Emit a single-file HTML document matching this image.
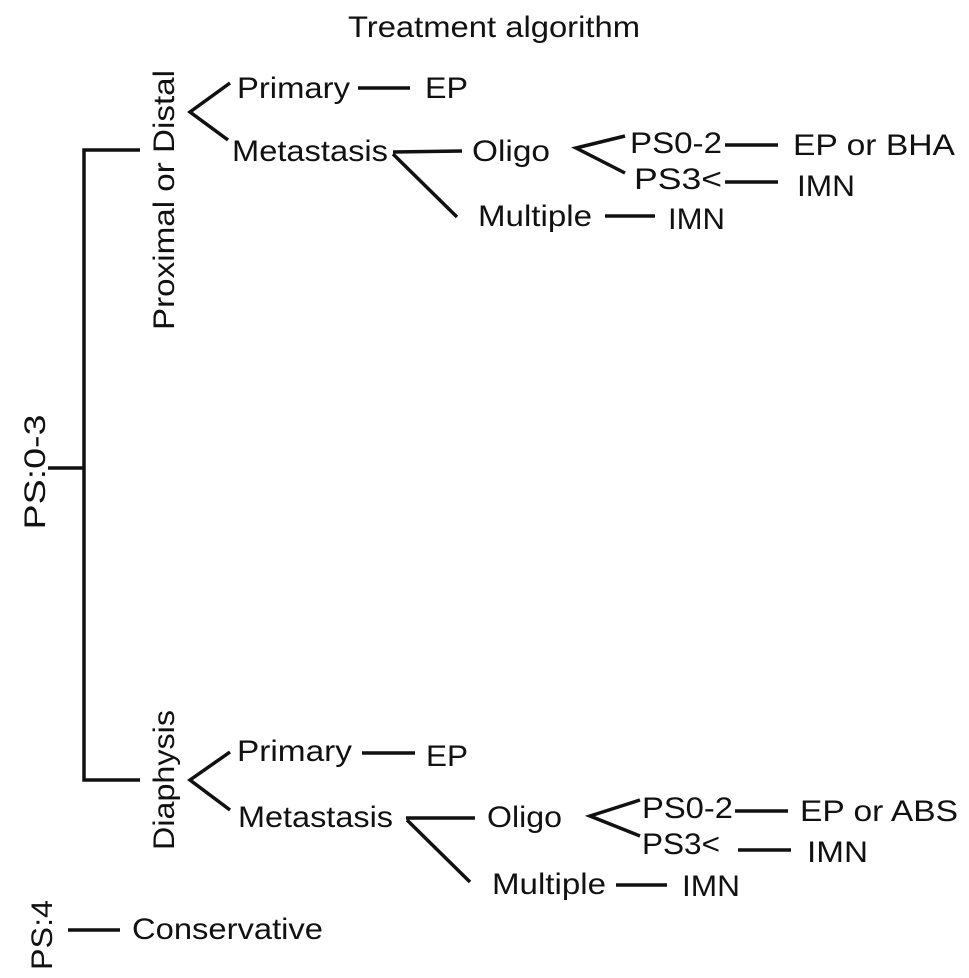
<!DOCTYPE html>
<html><head><style>html,body{margin:0;padding:0;background:#fff}svg{display:block}</style></head><body>
<svg width="969" height="978" viewBox="0 0 969 978" xmlns="http://www.w3.org/2000/svg" font-family="Liberation Sans, Arial, sans-serif" font-size="30" fill="#111">
<g stroke="#111" stroke-width="3.5" fill="none" stroke-linecap="butt">
<polyline points="140,150 84,150 84,780 140,780"/>
<line x1="48" y1="468" x2="84" y2="468"/>
<polyline points="230,83 190,112 228,140"/>
<line x1="358" y1="88" x2="410" y2="88"/>
<line x1="393" y1="152" x2="462" y2="151"/>
<line x1="393" y1="154" x2="457" y2="217"/>
<polyline points="625,136 576,148 625,173"/>
<line x1="725" y1="145" x2="778" y2="145"/>
<line x1="725" y1="182" x2="778" y2="182"/>
<line x1="605" y1="216" x2="655" y2="216"/>
<polyline points="230,752 190,780 230,810"/>
<line x1="362" y1="753" x2="415" y2="753"/>
<line x1="406" y1="818" x2="475" y2="818"/>
<line x1="407" y1="820" x2="470" y2="882"/>
<polyline points="640,800 590,816 640,836"/>
<line x1="735" y1="811" x2="788" y2="811"/>
<line x1="738" y1="850" x2="791" y2="850"/>
<line x1="616" y1="885" x2="667" y2="885"/>
<line x1="68" y1="930" x2="120" y2="930"/>
</g>
<g lengthAdjust="spacingAndGlyphs">
<text x="348" y="37" textLength="292" lengthAdjust="spacingAndGlyphs">Treatment algorithm</text>
<text transform="translate(174,200) rotate(-90)" text-anchor="middle" textLength="260" lengthAdjust="spacingAndGlyphs">Proximal or Distal</text>
<text transform="translate(174,780) rotate(-90)" text-anchor="middle" textLength="140" lengthAdjust="spacingAndGlyphs">Diaphysis</text>
<text transform="translate(45,472) rotate(-90)" text-anchor="middle" textLength="115" lengthAdjust="spacingAndGlyphs">PS:0-3</text>
<text transform="translate(52,935) rotate(-90)" text-anchor="middle" textLength="70" lengthAdjust="spacingAndGlyphs">PS:4</text>
<text x="237" y="98" textLength="113" lengthAdjust="spacingAndGlyphs">Primary</text>
<text x="425" y="98" textLength="43" lengthAdjust="spacingAndGlyphs">EP</text>
<text x="232" y="161" textLength="156" lengthAdjust="spacingAndGlyphs">Metastasis</text>
<text x="472" y="161" textLength="78" lengthAdjust="spacingAndGlyphs">Oligo</text>
<text x="630" y="153" textLength="92" lengthAdjust="spacingAndGlyphs">PS0-2</text>
<text x="793" y="155" textLength="162" lengthAdjust="spacingAndGlyphs">EP or BHA</text>
<text x="634" y="189" textLength="88" lengthAdjust="spacingAndGlyphs">PS3&lt;</text>
<text x="797" y="196" textLength="58" lengthAdjust="spacingAndGlyphs">IMN</text>
<text x="478" y="226" textLength="114" lengthAdjust="spacingAndGlyphs">Multiple</text>
<text x="668" y="229" textLength="57" lengthAdjust="spacingAndGlyphs">IMN</text>
<text x="237" y="761" textLength="115" lengthAdjust="spacingAndGlyphs">Primary</text>
<text x="426" y="766" textLength="42" lengthAdjust="spacingAndGlyphs">EP</text>
<text x="238" y="827" textLength="155" lengthAdjust="spacingAndGlyphs">Metastasis</text>
<text x="487" y="827" textLength="75" lengthAdjust="spacingAndGlyphs">Oligo</text>
<text x="642" y="818" textLength="91" lengthAdjust="spacingAndGlyphs">PS0-2</text>
<text x="800" y="821" textLength="158" lengthAdjust="spacingAndGlyphs">EP or ABS</text>
<text x="642" y="854" textLength="78" lengthAdjust="spacingAndGlyphs">PS3&lt;</text>
<text x="807" y="862" textLength="61" lengthAdjust="spacingAndGlyphs">IMN</text>
<text x="492" y="894" textLength="114" lengthAdjust="spacingAndGlyphs">Multiple</text>
<text x="682" y="896" textLength="58" lengthAdjust="spacingAndGlyphs">IMN</text>
<text x="132" y="939" textLength="191" lengthAdjust="spacingAndGlyphs">Conservative</text>
</g>
</svg>
</body></html>
